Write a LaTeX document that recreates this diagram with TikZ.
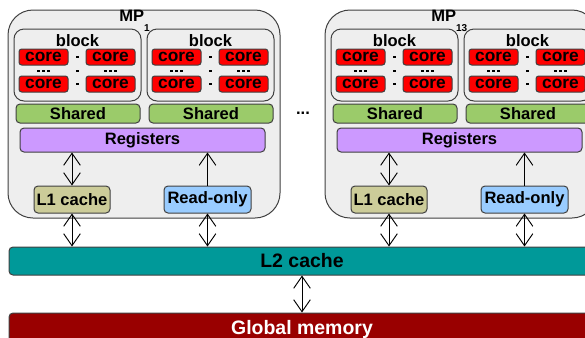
\documentclass[tikz,border=0pt]{standalone}
\usepackage{fontspec}
\setmainfont{Liberation Sans}
\usetikzlibrary{arrows.meta}

\newlength\px \setlength\px{0.75pt}

\definecolor{mpgray}{HTML}{EEEEEE}
\definecolor{edgegray}{HTML}{404040}
\definecolor{corered}{HTML}{FF0000}
\definecolor{sharedgreen}{HTML}{9BCB6A}
\definecolor{regpurple}{HTML}{CC99FF}
\definecolor{lonekhaki}{HTML}{CCCC99}
\definecolor{roblue}{HTML}{99CCFF}
\definecolor{ltwoteal}{HTML}{009999}
\definecolor{gmred}{HTML}{990000}

\tikzset{
  >={Straight Barb[length=9pt,width=12.5pt]},
  txt/.style={font=\fontsize{12.4}{14}\selectfont\bfseries, inner sep=0pt},
  bigtxt/.style={font=\fontsize{14.6}{17}\selectfont\bfseries, inner sep=0pt},
  box/.style={txt, draw=edgegray, line width=0.75pt, rounded corners=3pt},
  mpbox/.style={box, fill=mpgray, rounded corners=25\px},
  blockbox/.style={box, fill=mpgray, rounded corners=10\px,
                   minimum width=127\px, minimum height=72\px},
  corebox/.style={box, fill=corered, rounded corners=2pt,
                  font=\fontsize{13}{14}\selectfont\bfseries,
                  minimum width=49\px, minimum height=16\px},
  link/.style={<->, line width=0.7pt},
  feed/.style={->, line width=0.7pt},
}

\begin{document}
\begin{tikzpicture}[x=0.75pt, y=-0.75pt]
  \useasboundingbox (0,0) rectangle (585,337);
  \clip (0,0) rectangle (585,337);

  % ===== shared levels: L2 cache and global memory =====
  \node[box, bigtxt, fill=ltwoteal, minimum width=586\px, minimum height=28\px]
        (l2) at (302,261) {L2 cache};
  \node[box, bigtxt, fill=gmred, text=white, minimum width=586\px, minimum height=32\px]
        (gm) at (302,329) {Global memory};
  \draw[link] (l2.south) -- (gm.north);

  % "..." between the two multiprocessors
  \node[txt] (gap) at (303,113) {...};

  % ===== multiprocessors MP_1 and MP_13 =====
  \foreach \m/\ox/\sub/\lx in {1/0/1/119, 2/317/13/431} {
    \node[mpbox, minimum width=272\px, minimum height=208\px] (mp\m) at (\ox+144,114) {};
    \node[txt, anchor=west] (mplab\m) at (\lx,21)
          {MP\raisebox{-1.2ex}{\fontsize{7.5}{8}\selectfont\sub}};

    % two blocks of cores
    \foreach \b/\bx in {1/14, 2/147} {
      \node[blockbox] (blk\m-\b) at (\ox+\bx+63.5,65) {};
      \node[txt] (blklab\m-\b) at (\ox+\bx+63.5,41) {block};
      \foreach \c/\cx in {1/29.5, 2/96.5} {
        \node[corebox] (core\m-\b-\c-1) at (\ox+\bx+\cx,57) {core};
        \node[corebox] (core\m-\b-\c-2) at (\ox+\bx+\cx,84) {core};
        % vertical ellipsis between the two cores
        \foreach \dx in {-5,0,5}
          \fill (\ox+\bx+\cx+\dx-1.4,69.6) rectangle ++(2.8,2.8);
      }
      % small dots between the core columns
      \foreach \dy in {57,71,84}
        \fill (\ox+\bx+63.5-1.1,\dy-1.1) rectangle ++(2.2,2.2);
      \node[box, fill=sharedgreen, minimum width=124\px, minimum height=19\px]
            (sh\m-\b) at (\ox+\bx+64,113.5) {Shared};
    }

    \node[box, fill=regpurple, minimum width=245\px, minimum height=24\px]
          (reg\m) at (\ox+142.5,140) {Registers};
    \node[box, fill=lonekhaki, minimum width=76\px, minimum height=27\px]
          (lone\m) at (\ox+72,199.5) {L1 cache};
    \node[box, fill=roblue, minimum width=87\px, minimum height=27\px]
          (ro\m) at (\ox+207.5,199.5) {Read-only};

    \draw[link] (lone\m.north) -- (lone\m.north |- reg\m.south);
    \draw[feed] (ro\m.north) -- (ro\m.north |- reg\m.south);
    \draw[link] (lone\m.south) -- (lone\m.south |- l2.north);
    \draw[link] (ro\m.south) -- (ro\m.south |- l2.north);
  }

\end{tikzpicture}
\end{document}
